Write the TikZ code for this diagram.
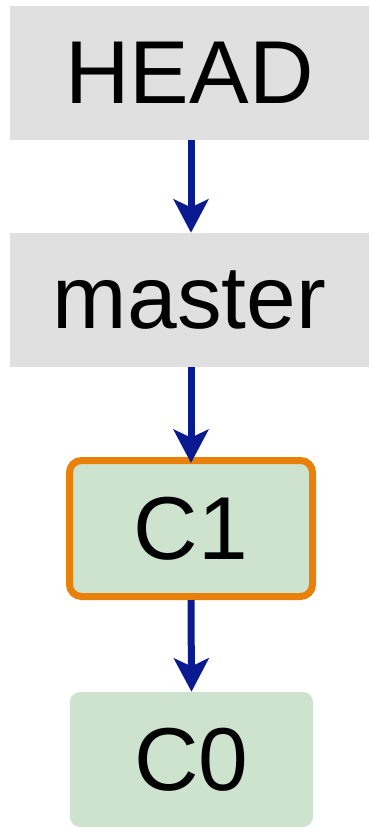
\documentclass[tikz,border=0pt]{standalone}
\usepackage{fontspec}
\setmainfont{Liberation Sans}
\usepackage{tikz}
\usetikzlibrary{arrows.meta,positioning}
\definecolor{gitRef}{HTML}{E0E0E0}
\definecolor{gitCommit}{HTML}{CEE3CE}
\definecolor{gitHead}{HTML}{E8800A}
\definecolor{gitArrow}{HTML}{0A1A91}

\begin{document}
\begin{tikzpicture}[x=0.75pt,y=-0.75pt,
    refbox/.style={fill=gitRef,inner sep=0pt,minimum width=269.25pt,minimum height=100.5pt},
    commitbox/.style={fill=gitCommit,rounded corners=7.5pt,inner sep=0pt,
                      minimum width=182.25pt,minimum height=101.25pt},
    ptr/.style={draw=gitArrow,line width=5.25pt,
                -{Stealth[length=25pt,width=26pt,inset=6pt]}},
    font=\fontsize{67}{67}\selectfont]
  \useasboundingbox (0,0) rectangle (369,829);
  \node[refbox] (head) at (189.5,73) {HEAD};
  \node[refbox] (master) at (189.5,300) {master};
  \node[commitbox,draw=gitHead,line width=5.25pt,rounded corners=9pt,
        minimum height=102pt] (c1) at (191,528.5) {C1};
  \node[commitbox] (c0) at (191.5,759.5) {C0};
  \draw[ptr] (head.south -| c1) -- (master.north -| c1);
  \draw[ptr,shorten >=-4.5pt] (master.south -| c1) -- (c1.north);
  \draw[ptr] (c1.south) -- (c0.north);
\end{tikzpicture}
\end{document}
